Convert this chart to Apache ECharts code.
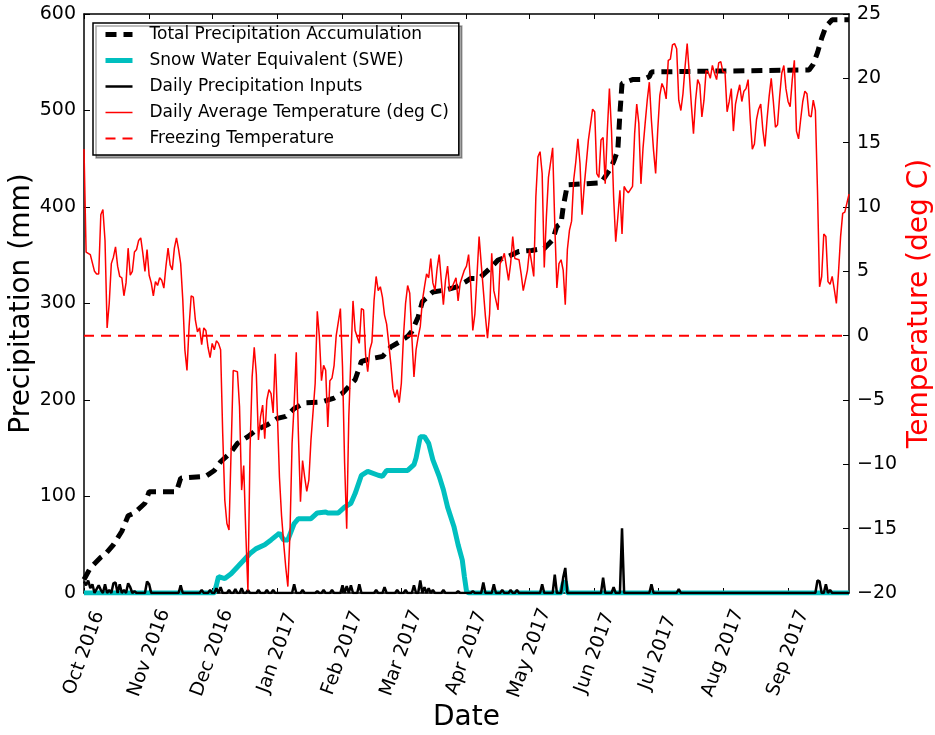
<!DOCTYPE html>
<html lang="en">
<head>
<meta charset="UTF-8">
<title>Precipitation and temperature, water year 2017</title>
<script src="https://cdn.jsdelivr.net/npm/echarts@6/dist/echarts.min.js"></script>
<style>
    *{margin:0;padding:0}
    #chart{width:935px;height:735px;background:#fff}
</style>
</head>
<body>
<div id="chart"></div>
<script>
// day 0 = 1 Oct 2016
const startDate = '2016-10-01'
const lastDay = 364

const monthLabels = ['Oct 2016','Nov 2016','Dec 2016','Jan 2017','Feb 2017','Mar 2017',
    'Apr 2017','May 2017','Jun 2017','Jul 2017','Aug 2017','Sep 2017']
const monthStarts = ['2016-10-01','2016-11-01','2016-12-01','2017-01-01','2017-02-01','2017-03-01',
    '2017-04-01','2017-05-01','2017-06-01','2017-07-01','2017-08-01','2017-09-01']

// [day, mm]
const totalPrecip = [[0,14],[3,26],[8,37],[10,40],[14,50],[18,64],[21,80],[24,83],[29,93],[31,105],
    [44,105],[46,119],[58,121],[62,127],[65,136],[70,146],[73,155],[78,162],[82,169],[87,174],
    [92,181],[96,183],[100,191],[105,197],[113,198],[119,202],[123,207],[129,221],[132,240],[137,243],
    [142,245],[146,255],[150,260],[154,266],[156,271],[159,286],[161,302],[166,312],[172,314],[177,317],
    [182,323],[184,326],[188,326],[193,336],[197,345],[202,349],[207,354],[213,355],[219,357],[223,366],
    [225,380],[227,383],[228,400],[230,423],[246,425],[250,438],[252,447],[254,459],[255,497],[256,528],
    [261,532],[266,532],[269,535],[270,540],[345,542],[347,548],[349,560],[351,575],[353,587],[356,594],
    [364,594]]

const swe = [[0,0],[62,0],[63,8],[64,17],[67,15],[70,20],[73,27],[76,34],[79,41],[82,46],[86,50],
    [89,55],[93,62],[95,55],[97,55],[100,72],[102,77],[108,77],[111,83],[115,84],[116,83],[121,83],
    [124,89],[127,93],[129,103],[132,122],[135,126],[140,122],[142,121],[144,127],[154,127],[157,133],
    [158,140],[160,162],[162,162],[164,155],[166,138],[169,121],[171,107],[173,89],[176,69],[178,50],
    [180,34],[181,17],[182,2],[183,0],[227,0],[228,10],[229,12],[230,0],[364,0]]

// days with precipitation [day, mm]; every other day is 0
const dailyInputs = [[0,12],[1,8],[2,13],[3,5],[4,9],[6,4],[7,8],[8,3],[10,9],[12,3],[14,10],[15,11],
    [17,9],[19,3],[21,10],[22,6],[24,2],[30,12],[31,9],[46,8],[56,3],[60,3],[63,5],[65,6],[69,3],
    [72,4],[75,5],[78,3],[83,3],[87,3],[90,3],[100,9],[104,3],[111,2],[114,3],[118,3],[123,8],
    [125,7],[127,8],[131,9],[139,3],[143,6],[149,3],[153,3],[157,8],[160,13],[162,6],[164,5],[166,3],
    [171,3],[178,2],[185,2],[190,11],[195,9],[199,3],[203,3],[206,3],[218,9],[224,19],[228,16],[229,26],
    [247,16],[252,6],[256,67],[270,9],[283,4],[349,13],[350,12],[353,9],[355,3]]

// [day, deg C]
const temperature = [[0,14.5],[1,6.5],[2,6.4],[3,6.3],[5,5.0],[6,4.8],[7,4.8],[8,9.4],[9,9.8],[10,7.4],
    [11,0.6],[12,2.5],[13,5.6],[14,6.1],[15,6.9],[16,5.4],[17,4.6],[18,4.5],[19,3.1],[20,4.1],
    [21,6.8],[22,4.7],[23,5.0],[24,6.5],[25,6.7],[26,7.4],[27,7.6],[28,6.4],[29,5.0],[30,6.7],
    [31,4.7],[32,4.1],[33,3.1],[34,4.2],[35,3.9],[36,4.5],[37,4.3],[38,3.7],[39,5.4],[40,6.8],
    [41,5.5],[42,5.1],[43,6.8],[44,7.6],[45,6.7],[46,5.6],[47,2.8],[48,-1.1],[49,-2.7],[50,0.7],
    [51,3.1],[52,3.0],[53,1.2],[54,0.3],[55,0.6],[56,-0.7],[57,0.6],[58,0.4],[59,-0.9],[60,-1.7],
    [61,-0.6],[62,-1.1],[63,-0.4],[64,-0.6],[65,-1.1],[66,-7.6],[67,-12.8],[68,-14.6],[69,-15.1],[70,-8.9],
    [71,-2.7],[73,-2.8],[74,-5.5],[75,-12.0],[76,-10.1],[77,-15.4],[78,-19.8],[79,-8.9],[80,-3.2],[81,-0.9],
    [82,-3.0],[83,-8.1],[84,-6.3],[85,-5.4],[86,-8.0],[87,-5.0],[88,-4.2],[89,-4.5],[90,-6.0],[91,-1.4],
    [92,-6.0],[93,-11.0],[94,-14.0],[95,-16.1],[96,-18.0],[97,-19.5],[98,-15.4],[99,-8.4],[100,-5.3],[101,-1.3],
    [102,-7.6],[103,-12.9],[104,-9.7],[105,-11.0],[106,-12.1],[107,-11.2],[108,-8.1],[110,-3.7],[111,1.9],[112,-0.1],
    [113,-3.5],[114,-2.3],[115,-2.7],[116,-7.1],[117,-3.5],[118,-3.3],[119,-2.3],[120,0.0],[122,2.1],[123,-2.4],
    [124,-9.9],[125,-15.0],[126,-6.3],[127,-1.7],[128,2.7],[129,0.4],[130,-0.1],[131,-0.6],[132,2.1],[133,2.0],
    [134,-1.5],[135,-2.8],[136,-1.1],[137,-0.5],[138,2.7],[139,4.6],[140,3.5],[141,3.8],[142,3.0],[143,1.6],
    [144,0.9],[145,-0.6],[146,-2.2],[147,-4.1],[148,-4.8],[149,-4.2],[150,-5.2],[151,-3.7],[152,-0.1],[153,2.5],
    [154,3.9],[155,3.3],[156,-0.1],[157,-3.2],[158,-1.1],[159,-0.1],[160,0.7],[161,2.7],[162,3.8],[163,4.8],
    [164,4.5],[165,6.0],[166,4.1],[167,3.5],[168,5.2],[169,6.3],[170,4.3],[171,2.4],[172,4.3],[173,5.4],
    [174,3.5],[175,3.7],[177,4.5],[178,2.7],[179,4.1],[181,5.1],[182,5.4],[183,6.3],[184,4.0],[185,0.4],
    [186,1.7],[188,7.7],[189,5.6],[191,1.5],[192,-0.2],[193,1.7],[194,6.4],[195,3.5],[197,2.0],[198,5.6],
    [199,5.9],[200,6.4],[202,4.3],[203,5.6],[204,7.7],[205,6.0],[207,5.9],[208,4.8],[209,3.5],[211,5.1],
    [212,6.7],[214,4.6],[215,10.8],[216,13.9],[217,14.3],[218,12.6],[219,5.3],[220,9.2],[221,12.3],[223,14.6],
    [224,8.7],[225,3.7],[226,5.6],[227,5.9],[228,5.1],[229,2.4],[230,6.7],[231,8.2],[232,8.9],[233,12.1],
    [234,13.5],[235,15.3],[236,13.4],[237,9.4],[238,11.6],[240,15.2],[241,16.4],[242,17.6],[243,17.4],[244,12.6],
    [245,12.3],[246,15.2],[247,15.4],[248,11.8],[249,15.9],[250,19.2],[251,15.9],[252,10.8],[253,7.3],[254,9.2],
    [255,11.3],[256,7.9],[257,11.6],[258,11.3],[259,11.1],[261,11.6],[262,15.7],[263,18.0],[264,16.5],[265,11.8],
    [266,14.6],[267,16.5],[268,18.3],[269,19.7],[270,16.7],[271,14.4],[272,12.6],[273,16.0],[274,18.7],[275,19.6],
    [276,19.2],[277,18.4],[278,21.4],[279,21.5],[280,22.6],[281,22.7],[282,22.3],[283,18.3],[284,17.5],[285,18.8],
    [286,20.9],[287,22.7],[288,20.4],[289,17.9],[290,15.7],[291,18.3],[292,19.9],[293,19.5],[294,17.0],[295,18.3],
    [296,20.6],[297,20.5],[298,20.0],[299,21.0],[300,20.4],[301,19.9],[302,21.2],[303,21.3],[304,20.5],[305,20.5],
    [306,17.4],[307,18.2],[308,19.2],[309,15.9],[310,18.0],[311,18.8],[312,19.5],[313,18.2],[314,19.0],[315,19.2],
    [316,19.9],[317,16.8],[318,14.5],[319,14.9],[320,16.8],[321,17.6],[322,18.0],[323,16.0],[324,14.7],[325,16.8],
    [326,18.6],[327,20.0],[328,18.2],[329,16.2],[330,16.4],[331,18.6],[332,20.4],[333,21.0],[334,19.2],[335,18.2],
    [336,17.8],[337,19.9],[338,21.4],[339,15.9],[340,15.3],[341,16.8],[342,18.2],[343,19.0],[344,18.8],[345,17.1],
    [346,17.0],[347,18.3],[348,17.5],[349,11.3],[350,3.8],[351,4.6],[352,7.9],[353,7.7],[354,4.2],[355,4.0],
    [356,4.6],[357,3.6],[358,2.5],[359,4.9],[360,7.7],[361,9.5],[362,9.6],[363,10.3],[364,11.0]]

const freezingTemp = 0

function dayOf(s){
    return Math.round((Date.parse(s) - Date.parse(startDate)) / 86400000)
}
let tickDays = monthStarts.map(dayOf)

let daily = []
for (let d = 0; d <= lastDay; d++) daily.push([d, 0])
dailyInputs.forEach(p => { daily[p[0]][1] = p[1] })

let black = '#000'
let cyan = '#00bfbf'
let font = 'DejaVu Sans'
let minus = v => String(v).replace('-', '\u2212')

let styles = {
    total: {color: black, width: 5, type: [11, 7]},
    swe: {color: cyan, width: 5},
    daily: {color: black, width: 2.5},
    temp: {color: 'red', width: 1.5},
    freeze: {color: '#ff0000', width: 2, type: [10, 7]}
}

let chart = echarts.init(document.getElementById('chart'))
let option = {
    animation: false,
    backgroundColor: '#fff',
    textStyle: {fontFamily: font},
    grid: {left: 84, right: 86, top: 14, bottom: 142, outerBoundsMode: 'none'},
    legend: {
        orient: 'vertical',
        left: 93, top: 23,
        backgroundColor: '#fff',
        borderColor: black, borderWidth: 1.5, borderRadius: 0,
        padding: [3, 10, 8, 10],
        itemWidth: 27, itemHeight: 14, itemGap: 9,
        shadowColor: 'rgba(0,0,0,0.35)', shadowBlur: 0, shadowOffsetX: 3, shadowOffsetY: 3,
        itemStyle: {opacity: 0},
        textStyle: {fontSize: 17, color: black, fontFamily: font, padding: [0, 0, 0, 12]},
        data: [
            {name: 'Total Precipitation Accumulation', lineStyle: styles.total},
            {name: 'Snow Water Equivalent (SWE)', lineStyle: styles.swe},
            {name: 'Daily Precipitation Inputs', lineStyle: styles.daily},
            {name: 'Daily Average Temperature (deg C)', lineStyle: styles.temp},
            {name: 'Freezing Temperature', lineStyle: styles.freeze}
        ]
    },
    xAxis: [{
        type: 'value', min: 0, max: lastDay, position: 'bottom',
        name: 'Date', nameLocation: 'middle', nameGap: 111, nameMoveOverlap: false,
        nameTextStyle: {fontSize: 28, color: black, fontFamily: font},
        axisLine: {onZero: false, lineStyle: {color: black, width: 1.5}},
        axisTick: {inside: true, length: 5, customValues: tickDays, lineStyle: {color: black}},
        axisLabel: {
            customValues: tickDays,
            formatter: v => monthLabels[tickDays.indexOf(v)],
            rotate: 70, align: 'center', verticalAlign: 'middle', margin: 60,
            fontSize: 19, color: black, fontFamily: font
        },
        splitLine: {show: false}
    }, {
        type: 'value', min: 0, max: lastDay, position: 'top',
        axisLine: {onZero: false, lineStyle: {color: black, width: 1.5}},
        axisTick: {inside: true, length: 5, customValues: tickDays, lineStyle: {color: black}},
        axisLabel: {show: false},
        splitLine: {show: false}
    }],
    yAxis: [{
        type: 'value', min: 0, max: 600, interval: 100, position: 'left',
        name: 'Precipitation (mm)', nameLocation: 'middle', nameGap: 48, nameMoveOverlap: false,
        nameTextStyle: {fontSize: 28, color: black, fontFamily: font},
        axisLine: {show: true, onZero: false, lineStyle: {color: black, width: 1.5}},
        axisTick: {show: true, inside: true, length: 6, lineStyle: {color: black}},
        axisLabel: {fontSize: 19, color: black, margin: 8, fontFamily: font},
        splitLine: {show: false}
    }, {
        type: 'value', min: -20, max: 25, interval: 5, position: 'right',
        name: 'Temperature (deg C)', nameLocation: 'middle', nameGap: 57, nameRotate: 90, nameMoveOverlap: false,
        nameTextStyle: {fontSize: 28, color: 'red', fontFamily: font},
        axisLine: {show: true, onZero: false, lineStyle: {color: black, width: 1.5}},
        axisTick: {show: true, inside: true, length: 6, lineStyle: {color: black}},
        axisLabel: {fontSize: 19, color: black, margin: 8, fontFamily: font, formatter: minus},
        splitLine: {show: false}
    }],
    series: [{
        name: 'Total Precipitation Accumulation', type: 'line', symbol: 'none',
        data: totalPrecip,
        itemStyle: {color: black},
        lineStyle: styles.total
    }, {
        name: 'Snow Water Equivalent (SWE)', type: 'line', symbol: 'none',
        data: swe,
        itemStyle: {color: cyan},
        lineStyle: styles.swe
    }, {
        name: 'Daily Precipitation Inputs', type: 'line', symbol: 'none',
        data: daily,
        itemStyle: {color: black},
        lineStyle: styles.daily
    }, {
        name: 'Daily Average Temperature (deg C)', type: 'line', symbol: 'none', yAxisIndex: 1,
        data: temperature,
        itemStyle: {color: 'red'},
        lineStyle: styles.temp
    }, {
        name: 'Freezing Temperature', type: 'line', symbol: 'none', yAxisIndex: 1,
        data: [[0, freezingTemp], [lastDay, freezingTemp]],
        itemStyle: {color: 'red'},
        lineStyle: styles.freeze
    }]
}
chart.setOption(option)
</script>
</body>
</html>
